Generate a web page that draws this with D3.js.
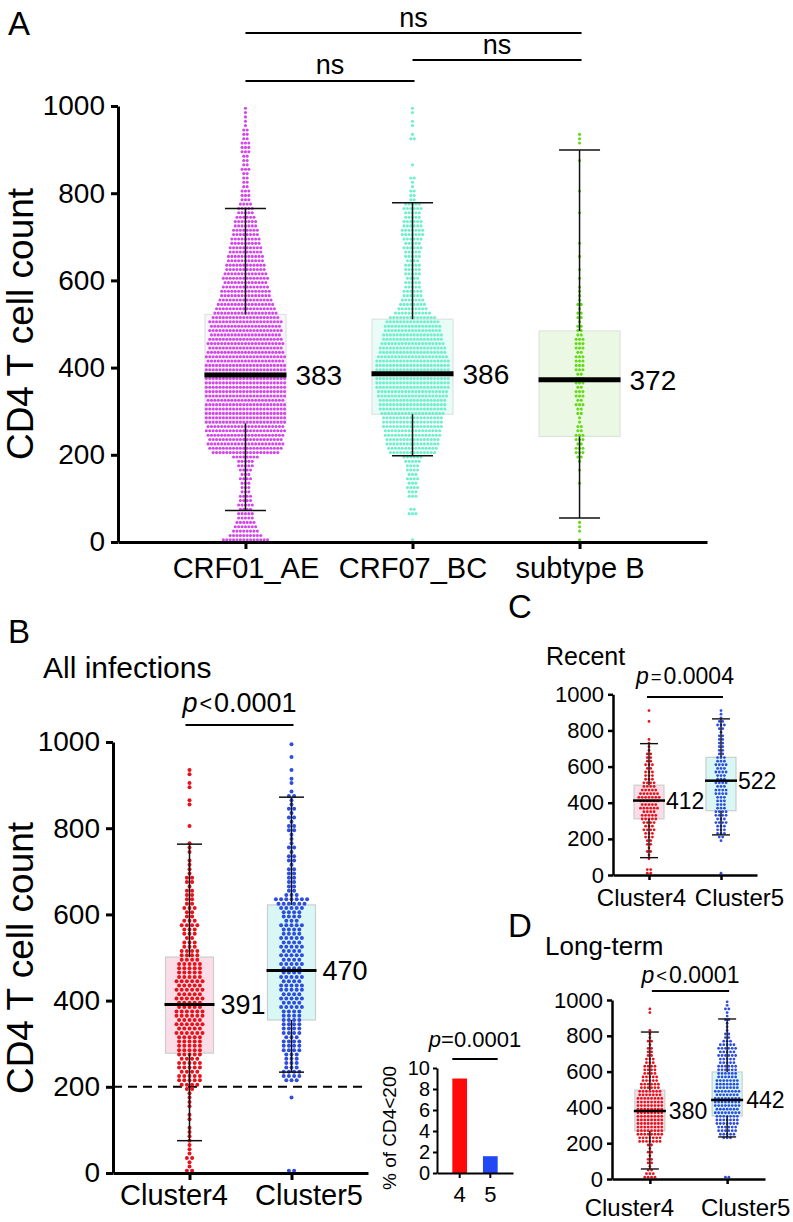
<!DOCTYPE html>
<html><head><meta charset="utf-8">
<script src="https://cdn.jsdelivr.net/npm/d3@7"></script>
<style>
body{margin:0;background:#fff}
svg{display:block}
text{font-family:"Liberation Sans",Arial,Helvetica,sans-serif;fill:#000}
</style>
</head><body>
<svg id="chart" width="793" height="1222"></svg>
<script>
// ---------------- DATA ----------------
// Panel A: subtypes
const catsA = ["CRF01_AE", "CRF07_BC", "subtype B"];
// dots per 10-unit row (0-9, 10-19, ... 990-999)
const dotsA_CRF01 = [
  14,10,8,7,6,5,5,4,5,4,
  4,3,3,3,4,3,4,5,5,8,
  20,22,23,22,23,24,23,24,24,24,
  24,24,23,24,24,24,24,24,24,24,
  24,23,24,23,22,23,22,21,22,21,
  22,20,19,18,17,16,15,15,14,13,
  14,13,12,12,11,11,10,10,9,9,
  8,8,7,7,6,5,5,4,3,3,
  3,2,2,2,2,3,2,2,2,3,
  3,3,2,2,2,1,1,1,1,1];
const dotsA_CRF07 = [
  1,0,0,0,0,0,3,2,0,0,
  3,3,4,3,4,3,4,4,5,6,
  14,15,16,16,17,17,18,18,18,19,
  20,20,20,21,21,22,22,22,22,22,
  22,22,21,20,20,19,18,18,17,17,
  16,14,11,9,8,7,6,6,5,5,
  4,5,5,5,4,5,5,6,5,6,
  7,7,6,6,5,5,6,5,2,2,
  2,1,1,2,0,0,1,0,0,0,
  0,0,2,1,0,1,1,0,1,1];
const dotsA_subB = [
  1,0,1,1,1,0,0,0,0,0,
  0,0,0,1,0,0,1,0,1,2,
  3,3,2,3,3,2,2,1,1,2,
  2,3,2,3,3,2,3,3,2,3,
  3,3,3,2,3,3,3,2,2,2,
  1,2,2,1,2,1,1,1,1,0,
  1,0,1,0,0,1,0,0,1,0,
  0,0,0,0,0,1,0,0,0,0,
  1,0,0,0,0,0,0,1,0,0,
  0,1,1,1,0,0,0,0,0,0];
const medianA = [383, 386, 372];
const q1A = [272, 293, 242];
const q3A = [522, 511, 484];
const whiskerLowA = [72, 198, 55];
const whiskerHighA = [765, 778, 899];
const sigA = [["CRF01_AE","subtype B","ns"],["CRF07_BC","subtype B","ns"],["CRF01_AE","CRF07_BC","ns"]];

// Panel B: all infections (dots per 10-unit row)
const catsClusters = ["Cluster4", "Cluster5"];
const dotsB_C4 = [
  2,1,1,2,1,1,1,1,1,1,
  1,0,1,1,0,1,1,1,1,2,
  4,5,5,4,5,5,4,5,5,5,
  5,5,6,5,6,5,6,6,5,5,
  6,5,6,5,6,5,5,5,5,4,
  4,4,3,3,2,3,3,4,3,2,
  2,3,2,2,2,2,1,2,2,1,
  1,1,1,0,1,1,1,0,0,0,
  1,0,0,0,0,1,1,0,0,1,
  1,0,1,1,0,0,0,0,0,0];
const dotsB_C5 = [
  2,0,0,0,0,0,0,0,0,0,
  0,0,0,0,0,0,0,1,0,0,
  0,3,4,4,3,3,3,3,4,4,
  4,3,4,4,4,4,4,4,5,4,
  5,4,5,5,4,5,4,4,5,4,
  5,4,5,4,5,4,4,5,3,4,
  4,5,6,7,3,2,2,2,2,2,
  2,1,2,2,1,2,1,1,1,2,
  2,1,2,1,2,1,1,2,1,0,
  1,1,0,1,0,0,1,0,0,1];
const medianB = [391, 470];
const q1B = [278, 355];
const q3B = [501, 622];
const whiskerLowB = [75, 234];
const whiskerHighB = [763, 872];
const pB = "<0.0001";

// Inset: % of CD4<200
const insetCats = ["4", "5"];
const insetValues = [9.0, 1.6];
const insetTicks = [0, 2, 4, 6, 8, 10];
const pInset = "=0.0001";

// Panel C: recent (dots per 20-unit row)
const dotsC_C4 = [
  2,2,0,0,1,1,2,1,2,2,
  3,3,4,3,4,5,5,4,6,5,
  6,7,6,5,4,4,3,3,3,2,
  3,2,2,2,1,1,1,1,0,0,
  0,0,1,0,0,1,0,0,0,0];
const dotsC_C5 = [
  1,0,0,0,0,0,0,0,0,1,
  2,3,3,3,4,3,4,4,3,3,
  3,3,4,4,3,4,3,3,4,3,
  4,3,3,2,2,2,2,2,2,1,
  2,3,2,1,1,1,0,0,0,0];
const medianC = [412, 522];
const q1C = [311, 356];
const q3C = [497, 651];
const whiskerLowC = [96, 222];
const whiskerHighC = [727, 864];
const pC = "=0.0004";

// Panel D: long-term (dots per 20-unit row)
const dotsD_C4 = [
  4,3,2,1,2,2,1,2,1,2,
  7,7,8,8,8,8,8,8,8,8,
  8,8,8,7,7,6,6,5,5,4,
  4,4,3,3,2,2,2,1,2,1,
  1,1,0,0,0,0,1,1,0,0];
const dotsD_C5 = [
  2,0,0,0,0,0,0,0,0,0,
  0,3,5,6,6,7,7,7,8,7,
  8,8,8,7,8,7,7,7,6,6,
  6,6,5,5,6,5,6,5,3,2,
  2,1,1,1,2,1,1,2,1,1];
const medianD = [380, 442];
const q1D = [268, 352];
const q3D = [497, 598];
const whiskerLowD = [56, 235];
const whiskerHighD = [821, 894];
const pD = "<0.0001";

const yTicks = [0, 200, 400, 600, 800, 1000];

// ---------------- DRAW ----------------
const svg = d3.select("#chart");
const FONT = '"Liberation Sans", Arial, Helvetica, sans-serif';
const fmt = d3.format("d");

function styleAxis(g, w, fs) {
  g.attr("font-family", FONT).attr("font-size", fs);
  g.selectAll("path.domain").attr("stroke", "#000").attr("stroke-width", w);
  g.selectAll(".tick line").attr("stroke", "#000").attr("stroke-width", w);
  g.selectAll(".tick text").attr("fill", "#000");
}

function pText(sel, str, fs) {
  sel.append("tspan").attr("font-style", "italic").text("p");
  sel.append("tspan").attr("font-size", fs * 0.8).attr("dx", 2).attr("dy", -1).text(str[0]);
  sel.append("tspan").attr("dx", 2).attr("dy", 1).text(str.slice(1));
}

function swarmPanel(p) {
  const g = svg.append("g");
  const x = d3.scalePoint().domain(p.cats).range([p.ax0, p.ax1]).padding(p.pad);
  const y = d3.scaleLinear().domain([0, 1000]).range([p.y0, p.y1]);

  p.cats.forEach((c, i) => {
    g.append("rect")
      .attr("x", x(c) - p.boxW / 2).attr("width", p.boxW)
      .attr("y", y(p.q3[i])).attr("height", y(p.q1[i]) - y(p.q3[i]))
      .attr("fill", p.boxFill[i]).attr("stroke", p.boxStroke).attr("stroke-width", 1.2);
  });
  if (p.dashAt !== undefined) {
    g.append("line").attr("x1", p.ax0).attr("x2", p.dashEnd)
      .attr("y1", y(p.dashAt)).attr("y2", y(p.dashAt))
      .attr("stroke", "#000").attr("stroke-width", 2).attr("stroke-dasharray", "9,6");
  }
  p.cats.forEach((c, i) => {
    const cx = x(c);
    const rows = [];
    p.bins[i].forEach((n, b) => {
      const v = b * p.binSize + p.binSize / 2;
      for (let j = 0; j < n; j++) rows.push({ x: cx + (j - (n - 1) / 2) * p.sp, v: v });
    });
    g.append("g").selectAll("circle").data(rows).join("circle")
      .attr("cx", d => d.x).attr("cy", d => y(d.v)).attr("r", p.r).attr("fill", p.colors[i]);
  });
  p.cats.forEach((c, i) => {
    const cx = x(c);
    const wg = g.append("g").attr("stroke", "#111").attr("stroke-width", p.wW);
    wg.append("line").attr("x1", cx).attr("x2", cx).attr("y1", y(p.q3[i])).attr("y2", y(p.wHigh[i]));
    wg.append("line").attr("x1", cx).attr("x2", cx).attr("y1", y(p.q1[i])).attr("y2", y(p.wLow[i]));
    wg.append("line").attr("x1", cx - p.capW / 2).attr("x2", cx + p.capW / 2).attr("y1", y(p.wHigh[i])).attr("y2", y(p.wHigh[i]));
    wg.append("line").attr("x1", cx - p.capW / 2).attr("x2", cx + p.capW / 2).attr("y1", y(p.wLow[i])).attr("y2", y(p.wLow[i]));
    g.append("line").attr("x1", cx - p.medW / 2).attr("x2", cx + p.medW / 2)
      .attr("y1", y(p.median[i])).attr("y2", y(p.median[i]))
      .attr("stroke", "#000").attr("stroke-width", p.medLW);
    g.append("text").attr("x", cx + p.medW / 2 + p.medLabelGap).attr("y", y(p.median[i]))
      .attr("dy", "0.36em").attr("font-size", p.medFS).text(p.median[i]);
  });
  const ya = g.append("g").attr("transform", `translate(${p.ax0},0)`)
    .call(d3.axisLeft(y).tickValues(yTicks).tickFormat(fmt).tickSize(p.tick).tickSizeOuter(0).tickPadding(p.tickPad));
  styleAxis(ya, p.axW, p.tickFS);
  const xa = g.append("g").attr("transform", `translate(0,${p.y0})`)
    .call(d3.axisBottom(x).tickSize(p.tick).tickSizeOuter(0));
  styleAxis(xa, p.axW, p.xFS);
  xa.selectAll(".tick text").attr("dy", null).attr("y", p.xLabelY)
    .attr("dx", (d, i) => p.xLabelDx ? p.xLabelDx[i] : 0);
  p.sig.forEach(s => {
    const xa1 = x(s[0]) + (s.off1 || 0), xa2 = x(s[1]) + (s.off2 || 0);
    g.append("line").attr("x1", xa1).attr("x2", xa2).attr("y1", s.lineY).attr("y2", s.lineY)
      .attr("stroke", "#000").attr("stroke-width", 2);
    const t = g.append("text").attr("x", (xa1 + xa2) / 2).attr("y", s.textY)
      .attr("text-anchor", "middle").attr("font-size", s.fs);
    if (s.p) pText(t, s.p, s.fs); else t.text(s[2]);
  });
  if (p.yLabel) {
    g.append("text").attr("transform", `translate(${p.yLabelX},${p.yLabelY}) rotate(-90)`)
      .attr("text-anchor", "middle").attr("font-size", p.yLabelFS).text(p.yLabel);
  }
  return { x, y };
}

// Panel A
swarmPanel({
  cats: catsA, ax0: 118, ax1: 707, pad: 0.763, y0: 542, y1: 106,
  bins: [dotsA_CRF01, dotsA_CRF07, dotsA_subB], binSize: 10, sp: 3.4, r: 1.55,
  colors: ["#d447ea", "#6ff0cc", "#62dc16"],
  boxW: 81, boxFill: ["#fbf3fc", "#eafcf8", "#ebf9e4"], boxStroke: "#dde3e0",
  q1: q1A, q3: q3A, median: medianA, wLow: whiskerLowA, wHigh: whiskerHighA,
  capW: 41, wW: 1.5, medW: 82, medLW: 5, medLabelGap: 9, medFS: 28,
  tick: 7, tickPad: 6, tickFS: 28, axW: 3, xFS: 29, xLabelY: 36,
  sig: [
    Object.assign(sigA[0].slice(), { lineY: 33, textY: 27, fs: 27, off2: 2 }),
    Object.assign(sigA[1].slice(), { lineY: 60, textY: 54, fs: 27, off2: 2 }),
    Object.assign(sigA[2].slice(), { lineY: 81, textY: 74, fs: 27, off2: 2 })
  ],
  yLabel: "CD4 T cell count", yLabelX: 33, yLabelY: 324, yLabelFS: 37
});

// Panel B
swarmPanel({
  cats: catsClusters, ax0: 113, ax1: 368, pad: 0.75, y0: 1173, y1: 742,
  bins: [dotsB_C4, dotsB_C5], binSize: 10, sp: 5.2, r: 2.0,
  colors: ["#e8121c", "#2c4ddf"],
  boxW: 48, boxFill: ["#fcdde7", "#d9f8f5"], boxStroke: "#c9cfcf",
  q1: q1B, q3: q3B, median: medianB, wLow: whiskerLowB, wHigh: whiskerHighB,
  capW: 25, wW: 1.5, medW: 50, medLW: 3, medLabelGap: 6, medFS: 27,
  tick: 7, tickPad: 6, tickFS: 28, axW: 3, xFS: 29, xLabelY: 32, xLabelDx: [-16, 17],
  dashAt: 200, dashEnd: 362,
  sig: [ Object.assign(["Cluster4", "Cluster5"], { lineY: 725, textY: 712, fs: 27, p: pB, off1: -4, off2: 2 }) ],
  yLabel: "CD4 T cell count", yLabelX: 33, yLabelY: 958, yLabelFS: 37
});

// Panel C
swarmPanel({
  cats: catsClusters, ax0: 613, ax1: 757, pad: 0.5, y0: 875, y1: 694.3,
  bins: [dotsC_C4, dotsC_C5], binSize: 20, sp: 3.4, r: 1.4,
  colors: ["#e8121c", "#2c4ddf"],
  boxW: 30, boxFill: ["#fcdde7", "#d9f8f5"], boxStroke: "#c9cfcf",
  q1: q1C, q3: q3C, median: medianC, wLow: whiskerLowC, wHigh: whiskerHighC,
  capW: 18, wW: 1.4, medW: 32, medLW: 2.5, medLabelGap: 1, medFS: 23,
  tick: 5, tickPad: 4, tickFS: 22, axW: 2.5, xFS: 24, xLabelY: 31, xLabelDx: [-8, 18],
  sig: [ Object.assign(["Cluster4", "Cluster5"], { lineY: 697, textY: 684, fs: 23, p: pC, off1: -2, off2: 2 }) ]
});

// Panel D
swarmPanel({
  cats: catsClusters, ax0: 612, ax1: 765, pad: 0.49, y0: 1179, y1: 1000,
  bins: [dotsD_C4, dotsD_C5], binSize: 20, sp: 3.4, r: 1.4,
  colors: ["#e8121c", "#2c4ddf"],
  boxW: 30, boxFill: ["#fcdde7", "#d9f8f5"], boxStroke: "#c9cfcf",
  q1: q1D, q3: q3D, median: medianD, wLow: whiskerLowD, wHigh: whiskerHighD,
  capW: 18, wW: 1.4, medW: 32, medLW: 2.5, medLabelGap: 3, medFS: 23,
  tick: 5, tickPad: 4, tickFS: 22, axW: 2.5, xFS: 24, xLabelY: 37, xLabelDx: [-21, 18],
  sig: [ Object.assign(["Cluster4", "Cluster5"], { lineY: 991, textY: 983, fs: 23, p: pD, off1: 2, off2: 2 }) ]
});

// Inset bar chart
(function () {
  const g = svg.append("g");
  const x = d3.scaleBand().domain(insetCats).range([437, 513]).paddingInner(0.52).paddingOuter(0.5);
  const y = d3.scaleLinear().domain([0, 10]).range([1173, 1068]);
  g.selectAll("rect").data(insetValues).join("rect")
    .attr("x", (d, i) => x(insetCats[i])).attr("width", x.bandwidth())
    .attr("y", d => y(d)).attr("height", d => y(0) - y(d))
    .attr("fill", (d, i) => i === 0 ? "#ff0a0a" : "#2247f5");
  const ya = g.append("g").attr("transform", "translate(437,0)")
    .call(d3.axisLeft(y).tickValues(insetTicks).tickSize(4).tickSizeOuter(0).tickPadding(3));
  styleAxis(ya, 2, 20);
  const xa = g.append("g").attr("transform", "translate(0,1173)")
    .call(d3.axisBottom(x).tickSize(5).tickSizeOuter(0));
  styleAxis(xa, 2, 22);
  xa.selectAll(".tick text").attr("dy", null).attr("y", 29);
  const x1 = x(insetCats[0]), x2 = x(insetCats[1]) + x.bandwidth();
  g.append("line").attr("x1", x1).attr("x2", x2).attr("y1", 1059).attr("y2", 1059)
    .attr("stroke", "#000").attr("stroke-width", 2);
  const t = g.append("text").attr("x", (x1 + x2) / 2).attr("y", 1047)
    .attr("text-anchor", "middle").attr("font-size", 22);
  t.append("tspan").attr("font-style", "italic").text("p");
  t.append("tspan").text(pInset);
  g.append("text").attr("transform", "translate(396,1128) rotate(-90)")
    .attr("text-anchor", "middle").attr("font-size", 19).text("% of CD4<200");
})();

// Panel letters and titles
const letters = [["A", 8, 35], ["B", 8, 643], ["C", 508, 618], ["D", 508, 937]];
svg.selectAll("text.letter").data(letters).join("text").attr("class", "letter")
  .attr("x", d => d[1]).attr("y", d => d[2]).attr("font-size", 33).text(d => d[0]);
const titles = [["All infections", 43, 678, 30], ["Recent", 546, 665, 25], ["Long-term", 545, 955, 26]];
svg.selectAll("text.title").data(titles).join("text").attr("class", "title")
  .attr("x", d => d[1]).attr("y", d => d[2]).attr("font-size", d => d[3]).text(d => d[0]);
</script>
</body></html>
